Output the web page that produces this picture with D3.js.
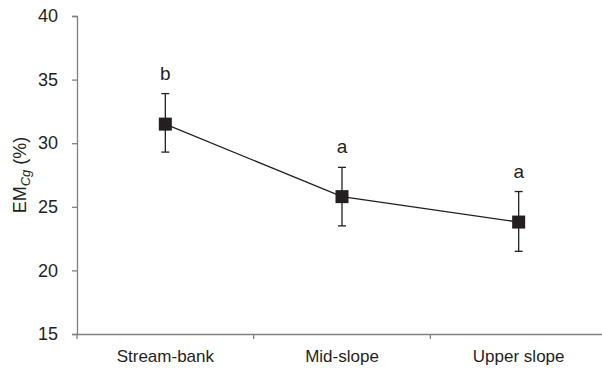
<!DOCTYPE html>
<html><head><meta charset="utf-8">
<script src="https://cdn.jsdelivr.net/npm/d3@7"></script>
<style>body{margin:0;background:#fff}svg{display:block}text{font-family:"Liberation Sans",Arial,sans-serif;fill:#231f20}</style>
</head><body>
<script>
const categories = ["Stream-bank", "Mid-slope", "Upper slope"];
const means = [31.5, 25.8, 23.8];
const errUpper = [33.9, 28.1, 26.2];
const errLower = [29.3, 23.5, 21.5];
const letters = ["b", "a", "a"];
const yTicks = [15, 20, 25, 30, 35, 40];

const W = 602, H = 377;
const svg = d3.select("body").append("svg").attr("width", W).attr("height", H);
const x = d3.scaleBand().domain(categories).range([77, 607]);
const y = d3.scaleLinear().domain([15, 40]).range([334, 16]);
const cx = c => x(c) + x.bandwidth() / 2;
const axisColor = "#808080";

// y axis
const ya = svg.append("g").attr("transform", "translate(77,0)")
  .call(d3.axisLeft(y).tickValues(yTicks).tickSize(5).tickPadding(14));
ya.select(".domain").attr("stroke", axisColor).attr("stroke-width", 1.3);
ya.selectAll(".tick line").attr("stroke", axisColor).attr("stroke-width", 1.3);
ya.selectAll(".tick text").style("font-size", "18px").attr("fill", "#231f20");

// x axis
const xa = svg.append("g").attr("transform", "translate(0,334)")
  .call(d3.axisBottom(x).tickSize(0).tickPadding(16));
xa.select(".domain").attr("stroke", axisColor).attr("stroke-width", 1.3);
xa.selectAll(".tick text").style("font-size", "17px").attr("fill", "#231f20");
// category boundary ticks
svg.append("g").selectAll("line").data(categories).join("line")
  .attr("x1", d => x(d)).attr("x2", d => x(d))
  .attr("y1", 334).attr("y2", 339)
  .attr("stroke", axisColor).attr("stroke-width", 1.3);

// y label
const yl = svg.append("text")
  .attr("transform", "translate(26,175) rotate(-90)")
  .attr("text-anchor", "middle").style("font-size", "18px");
yl.append("tspan").text("EM");
yl.append("tspan").text("Cg").style("font-style", "italic").style("font-size", "13px").attr("dy", 4);
yl.append("tspan").text(" (%)").attr("dy", -4);

// line
svg.append("path")
  .datum(categories.map((c, i) => [cx(c), y(means[i])]))
  .attr("d", d3.line())
  .attr("fill", "none").attr("stroke", "#231f20").attr("stroke-width", 1.3);

// error bars
const eb = svg.append("g").attr("stroke", "#231f20").attr("stroke-width", 1.3);
categories.forEach((c, i) => {
  eb.append("line").attr("x1", cx(c)).attr("x2", cx(c)).attr("y1", y(errUpper[i])).attr("y2", y(errLower[i]));
  eb.append("line").attr("x1", cx(c) - 4).attr("x2", cx(c) + 4).attr("y1", y(errUpper[i])).attr("y2", y(errUpper[i]));
  eb.append("line").attr("x1", cx(c) - 4).attr("x2", cx(c) + 4).attr("y1", y(errLower[i])).attr("y2", y(errLower[i]));
});

// markers
const s = 13;
svg.append("g").selectAll("rect").data(categories).join("rect")
  .attr("x", d => cx(d) - s / 2).attr("y", (d, i) => y(means[i]) - s / 2)
  .attr("width", s).attr("height", s).attr("fill", "#231f20");

// letters
svg.append("g").selectAll("text").data(categories).join("text")
  .attr("x", d => cx(d)).attr("y", (d, i) => y(errUpper[i]) - 14)
  .attr("text-anchor", "middle").style("font-size", "19px")
  .text((d, i) => letters[i]);
</script>
</body></html>
